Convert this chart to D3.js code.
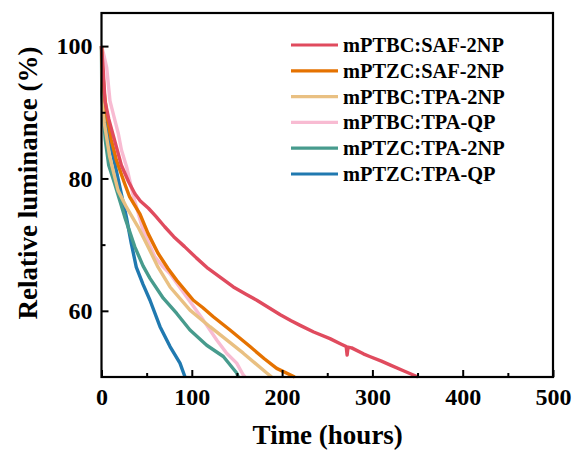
<!DOCTYPE html>
<html><head><meta charset="utf-8">
<script src="https://cdn.jsdelivr.net/npm/d3@7/dist/d3.min.js"></script>
<style>body{margin:0;background:#fff}svg{display:block}text{font-family:"Liberation Serif","Times New Roman",serif;font-weight:bold;fill:#000}</style>
</head><body><svg id="c" width="575" height="452"></svg>
<script>
const seriesNames = ["mPTBC:SAF-2NP","mPTZC:SAF-2NP","mPTBC:TPA-2NP","mPTBC:TPA-QP","mPTZC:TPA-2NP","mPTZC:TPA-QP"];
const seriesColors = ["#E04B5E","#E57200","#E9C082","#F8BBD2","#479B8D","#2079B0"];

const tRed = [0,1.7,3.9,8,15,22,30,37,43,52,60,70,80,92,105,118,132,146,160,172,185,198,210,220,235,253,265,271,272,273,277,290,297,310,320,335,350.5];
const vRed = [100,96.8,91.7,89,85.5,82,79.5,77.7,76.6,75.5,74.3,72.7,71.2,69.7,68.0,66.4,65.0,63.6,62.5,61.6,60.5,59.4,58.5,57.8,56.8,55.8,55.0,54.6,53.3,54.5,54.4,53.5,53.1,52.4,51.8,50.9,50];

const tOrange = [0,1,3,6,10.9,16.4,25.7,31.2,42.3,51.5,62.6,73.6,83.3,101.7,112,123.8,142.3,164.5,180,194,214];
const vOrange = [100,97,93,89.5,85.8,82.8,79.2,77.2,74.7,71.7,68.7,66.4,64.6,61.6,60.5,59.1,57.1,54.6,52.8,51.3,50];

const tTan = [0,0.5,3,9.1,18.3,27.5,40.4,51.5,62.6,75.9,98,120.1,138.6,157,170,183,188.5];
const vTan = [100,94,88.5,83.3,78.2,75.7,72.7,69.7,66.6,63.6,60.1,57.6,55.6,53.6,52.1,50.6,50];

const tPink = [0,2,5.7,9.4,13.5,18.6,22.1,27.9,35,46,58.9,68.4,75.9,94.4,112.7,127.6,138.6,149.7,157,159];
const vPink = [100,99,96.8,91.7,89.5,86.8,84.3,81.7,77.5,72.2,68.2,66.6,65.6,62.1,58.6,55.6,53.6,52.1,50.3,50];

const tTeal = [0,0.3,1.3,4.2,8,14.6,25.7,36.8,46,53.7,68.4,83.3,98,116.5,134.9,149.7,151.5];
const vTeal = [100,93,90.8,85.8,82,79.2,74.2,69.7,66.8,64.9,61.9,59.6,57.1,54.8,53.1,50.6,50];

const tBlue = [0,1,3,7.2,12.7,16.4,21.9,27.5,33,38.5,46,53.7,64.8,75.9,86.9,92.5];
const vBlue = [100,96,91,86.8,83.5,81.2,77.7,74.2,70.2,66.6,64,61.6,57.6,54.6,52.1,50];

const xMajor = [0,100,200,300,400,500];
const xMinor = [50,150,250,350,450];
const yMajor = [60,80,100];
const yMinor = [70,90];

const seriesT = [tRed,tOrange,tTan,tPink,tTeal,tBlue];
const seriesV = [vRed,vOrange,vTan,vPink,vTeal,vBlue];

const L=101.5,R=553,T=13,B=377;
const svg=d3.select("#c");
const x=d3.scaleLinear().domain([0,500]).range([L,R]);
const y=d3.scaleLinear().domain([50,105]).range([B,T]);

const line=d3.line().x(d=>x(d[0])).y(d=>y(d[1]));
const plot=svg.append("g");
for(let i=seriesNames.length-1;i>=0;i--){
  const pts=seriesT[i].map((t,j)=>[t,seriesV[i][j]]);
  plot.append("path").datum(pts).attr("d",line).attr("fill","none")
    .attr("stroke",seriesColors[i]).attr("stroke-width",3.4).attr("stroke-linejoin","round");
}

// axes
const gx=svg.append("g").attr("transform",`translate(0,${B})`)
  .call(d3.axisBottom(x).tickValues(xMajor).tickSizeInner(-7).tickSizeOuter(0).tickPadding(11).tickFormat(d3.format("d")));
gx.select(".domain").remove();
gx.selectAll("line").attr("stroke","#000").attr("stroke-width",2);
gx.selectAll("text").style("font-size","24px").attr("fill","#000");
const gxm=svg.append("g").attr("transform",`translate(0,${B})`)
  .call(d3.axisBottom(x).tickValues(xMinor).tickSizeInner(-4).tickSizeOuter(0).tickFormat(""));
gxm.select(".domain").remove();
gxm.selectAll("line").attr("stroke","#000").attr("stroke-width",2);

const gy=svg.append("g").attr("transform",`translate(${L},0)`)
  .call(d3.axisLeft(y).tickValues(yMajor).tickSizeInner(-7).tickSizeOuter(0).tickPadding(9).tickFormat(d3.format("d")));
gy.select(".domain").remove();
gy.selectAll("line").attr("stroke","#000").attr("stroke-width",2);
gy.selectAll("text").style("font-size","24px").attr("fill","#000");
const gym=svg.append("g").attr("transform",`translate(${L},0)`)
  .call(d3.axisLeft(y).tickValues(yMinor).tickSizeInner(-4).tickSizeOuter(0).tickFormat(""));
gym.select(".domain").remove();
gym.selectAll("line").attr("stroke","#000").attr("stroke-width",2);

svg.append("rect").attr("x",L).attr("y",T).attr("width",R-L).attr("height",B-T)
  .attr("fill","none").attr("stroke","#000").attr("stroke-width",2.2);

svg.append("text").attr("x",(L+R)/2+0.5).attr("y",444).attr("text-anchor","middle")
  .style("font-size","27px").text("Time (hours)");
svg.append("text").attr("transform","translate(37,183) rotate(-90)").attr("text-anchor","middle")
  .style("font-size","27px").text("Relative luminance (%)");

// legend
const lg=svg.append("g");
seriesNames.forEach((n,i)=>{
  const yy=45+i*25.8;
  lg.append("line").attr("x1",291).attr("x2",338).attr("y1",yy).attr("y2",yy)
    .attr("stroke",seriesColors[i]).attr("stroke-width",3.2);
  lg.append("text").attr("x",343).attr("y",yy+7).style("font-size","20.4px").text(n);
});
</script></body></html>
